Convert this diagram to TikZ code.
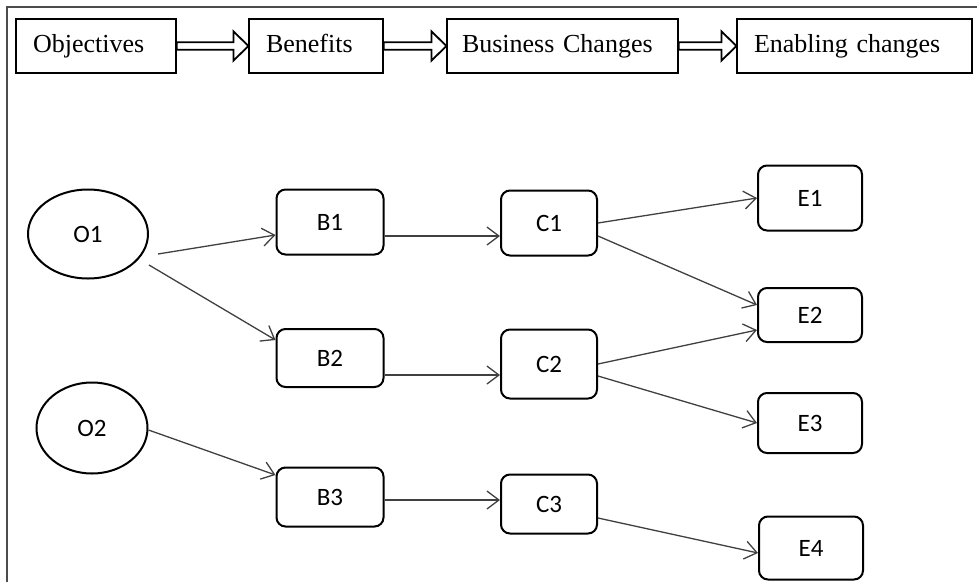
\documentclass[tikz,border=0pt]{standalone}
\usepackage{fontspec}
\setmainfont{Liberation Serif}
\newfontfamily\labelfont{Carlito}
\usetikzlibrary{arrows.meta,shapes.geometric,calc}

\tikzset{
	stage/.style={draw,line width=1.2pt,minimum height=54pt,inner xsep=17pt,inner ysep=0pt,
		text width=#1,align=left,text height=19pt,text depth=6pt,
		font=\fontsize{26}{30}\selectfont},
	item/.style={draw,line width=2pt,rounded corners=9pt,minimum width=105pt,
		inner sep=0pt,font=\labelfont\fontsize{25}{30}\selectfont},
	goal/.style={draw,ellipse,line width=2pt,inner sep=0pt,
		font=\labelfont\fontsize{25}{30}\selectfont},
	link/.style={line width=1.3pt,draw=black!75,
		-{Straight Barb[length=12pt,width=18pt,line width=1.3pt]}},
	fatarrow/.style={draw,line width=1.8pt,fill=white,line join=miter}
}
% hollow arrow between two stage boxes
\newcommand\bigarrow[2]{%
	\path[fatarrow] let \p1=(#1.east), \p2=(#2.west) in
		(\x1,\y1+3.7pt) -- (\x2-15pt,\y1+3.7pt) -- (\x2-15pt,\y1+14.7pt) -- (\x2,\y1)
		-- (\x2-15pt,\y1-14.7pt) -- (\x2-15pt,\y1-3.7pt) -- (\x1,\y1-3.7pt) -- cycle;}

\begin{document}
\begin{tikzpicture}[x=1pt,y=-1pt]
	\useasboundingbox (0,0) rectangle (977,582);
	%% Frame
	\draw[line width=1.5pt,black!70] (7,582) -- (7,7) -- (977,7);
	%% Stages
	\node[stage=126pt] (obj) at (96,46) {Objectives};
	\node[stage=100pt] (ben) at (316,46) {Benefits};
	\node[stage=201pt,inner xsep=15pt] (bus) at (562.5,46) {Business Changes};
	\node[stage=201pt] (ena) at (854.5,46) {Enabling changes};
	\bigarrow{obj}{ben}
	\bigarrow{ben}{bus}
	\bigarrow{bus}{ena}
	%% Objectives
	\node[goal,minimum width=120pt,minimum height=89pt] (O1) at (88,234) {O1};
	\node[goal,minimum width=111pt,minimum height=91pt] (O2) at (92,428) {O2};
	%% Benefits
	\node[item,minimum width=107pt,minimum height=65pt] (B1) at (330,222) {B1};
	\node[item,minimum width=107pt,minimum height=58pt] (B2) at (330,358) {B2};
	\node[item,minimum width=107pt,minimum height=59pt] (B3) at (330,497) {B3};
	%% Business changes
	\node[item,minimum width=96pt,minimum height=65pt] (C1) at (549,223) {C1};
	\node[item,minimum width=96pt,minimum height=69pt] (C2) at (549,364) {C2};
	\node[item,minimum width=96pt,minimum height=59pt] (C3) at (549,504) {C3};
	%% Enabling changes
	\node[item,minimum width=104pt,minimum height=65pt] (E1) at (810,198) {E1};
	\node[item,minimum width=104pt,minimum height=54pt] (E2) at (810,315) {E2};
	\node[item,minimum width=104pt,minimum height=60pt] (E3) at (810,423) {E3};
	\node[item,minimum width=104pt,minimum height=63pt] (E4) at (811,548) {E4};
	%% Links
	\draw[link] ([shift={(9pt,-20pt)}]O1.east) -- ([yshift=-13pt]B1.west);
	\draw[link] ([yshift=-31pt]O1.east) -- ([yshift=18pt]B2.west);
	\draw[link] ([yshift=-2pt]O2.east) -- ([yshift=22pt]B3.west);
	\draw[link] ([yshift=-14pt]B1.east) -- ([yshift=-13pt]C1.west);
	\draw[link] ([yshift=-17pt]B2.east) -- ([yshift=-11pt]C2.west);
	\draw[link] ([yshift=-3pt]B3.east) -- ([yshift=4pt]C3.west);
	\draw[link] (C1.east) -- (E1.west);
	\draw[link] ([yshift=-13pt]C1.east) -- ([yshift=10pt]E2.west);
	\draw[link] (C2.east) -- ([yshift=-15pt]E2.west);
	\draw[link] ([yshift=-12pt]C2.east) -- (E3.west);
	\draw[link] ([yshift=-14pt]C3.east) -- ([yshift=-5pt]E4.west);
\end{tikzpicture}
\end{document}
